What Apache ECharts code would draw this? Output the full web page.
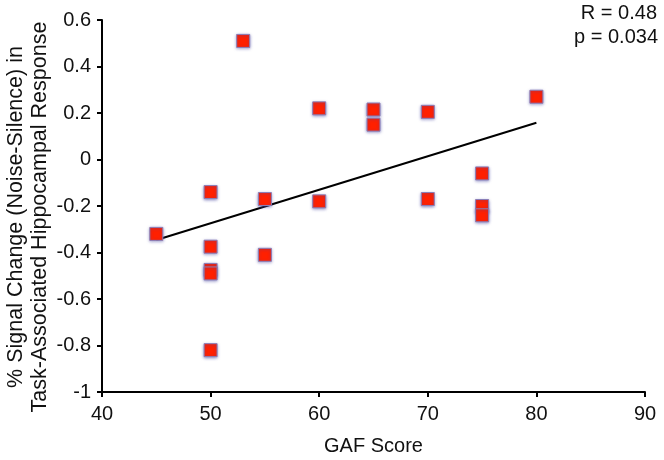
<!DOCTYPE html>
<html>
<head>
<meta charset="utf-8">
<script src="https://cdn.jsdelivr.net/npm/echarts@6/dist/echarts.min.js"></script>
<style>
html,body{margin:0;padding:0;background:#fff;}
#chart{width:664px;height:460px;}
</style>
</head>
<body>
<div id="chart"></div>
<script>
// GAF scores (x) and % signal change (y)
var gafScores = [45, 50, 50, 50, 50, 50, 53, 55, 55, 60, 60, 65, 65, 70, 70, 75, 75, 75, 80];
var signalChange = [-0.32, -0.14, -0.375, -0.475, -0.49, -0.82, 0.51, -0.17, -0.41, 0.22, -0.18, 0.215, 0.15, 0.205, -0.17, -0.06, -0.20, -0.24, 0.27];
// regression line endpoints
var fitX = [45, 80];
var fitY = [-0.346, 0.158];
var statsLines = ['R = 0.48', 'p = 0.034'];
var yTitleLines = ['% Signal Change (Noise-Silence) in', 'Task-Associated Hippocampal Response'];
var xTicks = [40, 50, 60, 70, 80, 90];
var yTicks = [-1, -0.8, -0.6, -0.4, -0.2, 0, 0.2, 0.4, 0.6];

var FONT = '"Liberation Sans", Arial, sans-serif';
var chart = echarts.init(document.getElementById('chart'), null, {renderer: 'canvas'});

var pts = gafScores.map(function (g, i) { return [g, signalChange[i]]; });
var fit = fitX.map(function (x, i) { return [x, fitY[i]]; });

chart.setOption({
  backgroundColor: '#ffffff',
  animation: false,
  grid: {left: 102, right: 19, top: 20, bottom: 68, containLabel: false, outerBoundsMode: 'none'},
  xAxis: {
    type: 'value',
    min: xTicks[0], max: xTicks[xTicks.length - 1], interval: 10,
    name: 'GAF Score', nameLocation: 'middle', nameGap: 44,
    nameTextStyle: {fontFamily: FONT, fontSize: 20, color: '#111'},
    axisLine: {show: true, onZero: false, lineStyle: {color: '#000', width: 2}},
    axisTick: {show: true, length: 5, lineStyle: {color: '#000', width: 2}},
    axisLabel: {fontFamily: FONT, fontSize: 20, color: '#111', margin: 12},
    splitLine: {show: false}
  },
  yAxis: {
    type: 'value',
    min: yTicks[0], max: yTicks[yTicks.length - 1], interval: 0.2,
    axisLine: {show: true, onZero: false, lineStyle: {color: '#000', width: 2}},
    axisTick: {show: true, length: 5, lineStyle: {color: '#000', width: 2}},
    axisLabel: {
      fontFamily: FONT, fontSize: 20, color: '#111', margin: 11,
      formatter: function (v) { return String(Math.round(v * 10) / 10); }
    },
    splitLine: {show: false}
  },
  graphic: [
    {type: 'text', right: 7, top: 3, style: {text: statsLines[0], font: '20px ' + FONT, fill: '#111', textAlign: 'right'}},
    {type: 'text', right: 6, top: 27, style: {text: statsLines[1], font: '20px ' + FONT, fill: '#111', textAlign: 'right'}},
    {type: 'text', x: 16, y: 217, rotation: Math.PI / 2,
     style: {text: yTitleLines[0], font: '21.5px ' + FONT, fill: '#111', textAlign: 'center', textVerticalAlign: 'middle'}},
    {type: 'text', x: 40, y: 217, rotation: Math.PI / 2,
     style: {text: yTitleLines[1], font: '21.5px ' + FONT, fill: '#111', textAlign: 'center', textVerticalAlign: 'middle'}}
  ],
  series: [
    {
      type: 'line', data: fit, showSymbol: false, symbol: 'none',
      lineStyle: {color: '#000', width: 2}, z: 2, silent: true
    },
    {
      type: 'scatter', data: pts, symbol: 'rect', symbolSize: 13,
      itemStyle: {
        color: '#ff2000', borderColor: '#8a7fb8', borderWidth: 1,
        shadowBlur: 3, shadowColor: 'rgba(70,70,160,0.6)', shadowOffsetY: 1, opacity: 1
      },
      z: 3
    }
  ]
});
</script>
</body>
</html>
